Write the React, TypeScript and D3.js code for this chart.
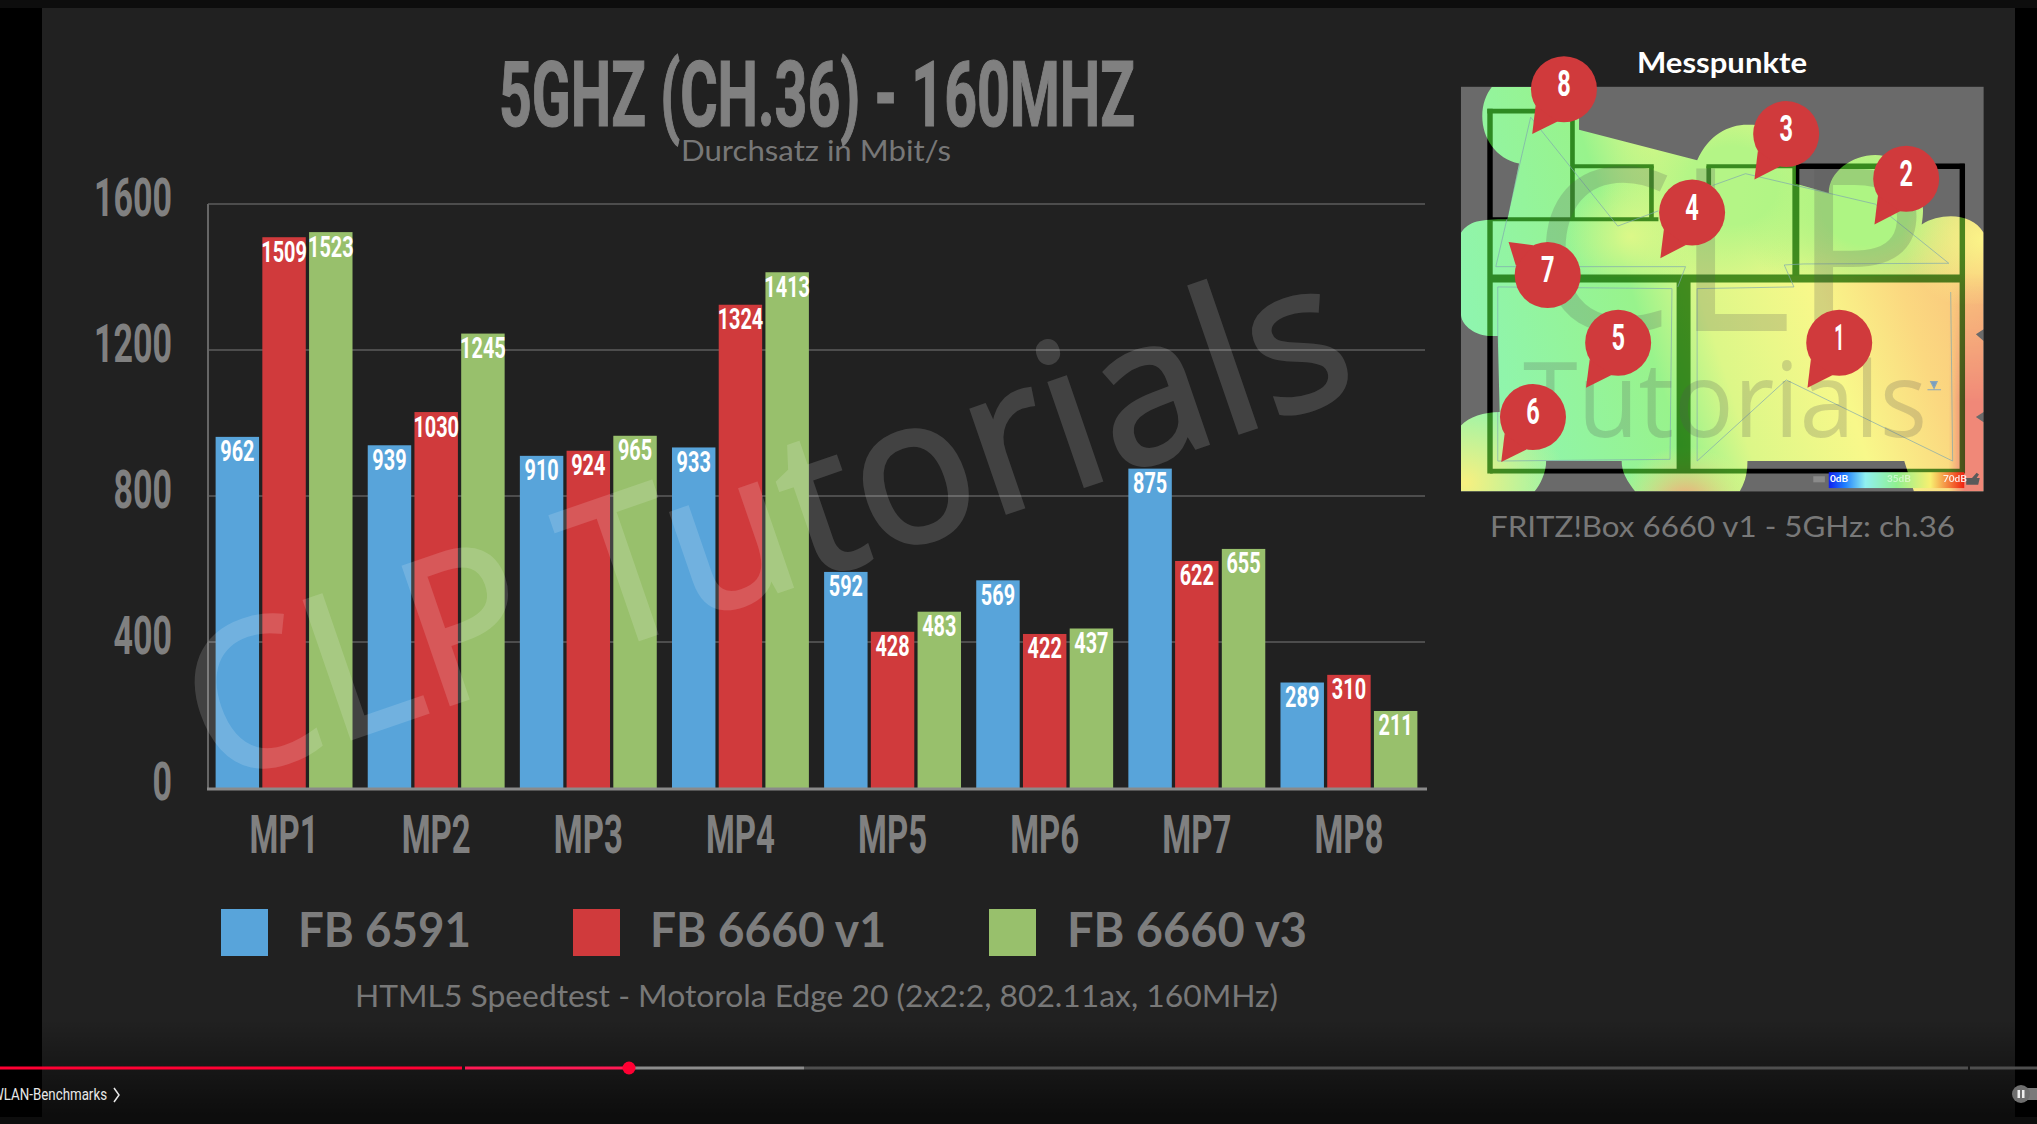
import React from "react";
import * as d3 from "d3";

const categories = ["MP1", "MP2", "MP3", "MP4", "MP5", "MP6", "MP7", "MP8"];
const seriesNames = ["FB 6591", "FB 6660 v1", "FB 6660 v3"];
const fb6591 = [962, 939, 910, 933, 592, 569, 875, 289];
const fb6660v1 = [1509, 1030, 924, 1324, 428, 422, 622, 310];
const fb6660v3 = [1523, 1245, 965, 1413, 483, 437, 655, 211];
const seriesValues = [fb6591, fb6660v1, fb6660v3];
const seriesColors = ["#58a4da", "#d03a3c", "#98c06c"];
const yTicks = [0, 400, 800, 1200, 1600];

const W = 2037, H = 1124;
const NARROW = "'Liberation Sans Narrow','Roboto',sans-serif";
const SOFT = "'Lato','Noto Sans',sans-serif";

const x0 = d3.scaleBand<string>().domain(categories).range([208, 1425]).paddingInner(0.1).paddingOuter(0.05);
const x1 = d3.scaleBand<string>().domain(seriesNames).range([0, x0.bandwidth()]).paddingInner(0.07);
const y = d3.scaleLinear().domain([0, 1600]).range([788, 204]);

const pins = [
  { n: "1", c: [1057, 925], t: [975, 1058] },
  { n: "2", c: [1230, 440], t: [1148, 575] },
  { n: "3", c: [920, 308], t: [838, 442] },
  { n: "4", c: [677, 540], t: [595, 675] },
  { n: "5", c: [486, 925], t: [403, 1058] },
  { n: "6", c: [266, 1145], t: [184, 1278] },
  { n: "7", c: [304, 725], t: [203, 627] },
  { n: "8", c: [346, 175], t: [264, 308] },
];

// floor-plan space -> page
const hx = d3.scaleLinear().domain([0, 607 * 2.583]).range([1430, 2037]);
const hy = d3.scaleLinear().domain([0, 530 * 2.958]).range([30, 560]);

const heatOutline =
  "M160,168 L385,168 L385,295 L690,385 C720,310 770,280 820,280 C880,280 930,300 945,340 L945,455 L1030,482 C1030,420 1090,370 1150,370 C1220,370 1290,450 1270,575 C1320,540 1400,540 1430,600 L1430,885 L1410,900 L1430,920 L1430,1130 L1410,1145 L1430,1160 L1430,1365 L1250,1365 L1225,1275 L820,1275 C820,1320 810,1345 800,1365 L530,1365 C510,1335 495,1310 495,1275 L300,1275 C300,1310 285,1345 270,1365 L80,1365 L80,1170 C100,1145 140,1130 180,1130 L175,905 L150,905 C110,900 80,870 80,840 L80,600 C100,565 130,560 200,560 L230,395 C170,380 135,320 135,255 C135,220 145,190 160,168 Z";

const walls: [number, number, number, number, number][] = [
  [148, 240, 375, 240, 14], [155, 233, 155, 1312, 14], [368, 240, 368, 560, 12],
  [368, 403, 578, 403, 12], [572, 403, 572, 560, 12], [155, 560, 590, 560, 12],
  [714, 403, 945, 403, 12], [720, 403, 720, 460, 12], [945, 403, 1381, 403, 16],
  [1375, 396, 1375, 1312, 14], [945, 403, 945, 735, 18], [155, 735, 1375, 735, 24],
  [655, 735, 655, 1305, 36], [155, 1305, 1375, 1305, 14],
];

const tracks: [number, number][][] = [
  [[260, 258], [170, 700], [660, 700], [640, 760]],
  [[260, 258], [485, 580], [590, 535]],
  [[730, 460], [815, 425], [1150, 515], [1340, 690], [965, 692], [915, 695], [940, 760], [690, 765], [690, 1275], [920, 1035], [1350, 1275], [1345, 775]],
  [[175, 760], [625, 765], [620, 1270], [175, 1275], [175, 760]],
];
const trackLine = d3.line();

function Heat() {
  const tf = `translate(1430,30) scale(${1 / 2.583},${1 / 2.958})`;
  const wallEls = (stroke: string) =>
    walls.map((w, i) => (
      <line key={i} x1={w[0]} y1={w[1]} x2={w[2]} y2={w[3]} strokeWidth={w[4]} stroke={stroke} />
    ));
  return (
    <g>
      <defs>
        <clipPath id="heatClip"><path d={heatOutline} /></clipPath>
        <linearGradient id="heatBase" gradientUnits="userSpaceOnUse" x1="180" y1="1150" x2="1430" y2="800">
          <stop offset="0" stopColor="#8ff5ae" />
          <stop offset="0.33" stopColor="#98f38c" />
          <stop offset="0.46" stopColor="#dcf788" />
          <stop offset="0.68" stopColor="#f8f88a" />
          <stop offset="0.85" stopColor="#fbd880" />
          <stop offset="1" stopColor="#f9c47c" />
        </linearGradient>
        <radialGradient id="heatGreenA" gradientUnits="userSpaceOnUse" cx="1130" cy="520" r="330">
          <stop offset="0.35" stopColor="#aef583" /><stop offset="1" stopColor="#aef583" stopOpacity="0" />
        </radialGradient>
        <radialGradient id="heatGreenB" gradientUnits="userSpaceOnUse" cx="780" cy="460" r="330">
          <stop offset="0.35" stopColor="#b4f586" /><stop offset="1" stopColor="#b4f586" stopOpacity="0" />
        </radialGradient>
        <radialGradient id="heatSpot" gradientUnits="userSpaceOnUse" cx="520" cy="610" r="170">
          <stop offset="0" stopColor="#dcf888" /><stop offset="1" stopColor="#dcf888" stopOpacity="0" />
        </radialGradient>
        <radialGradient id="heatCorner" gradientUnits="userSpaceOnUse" cx="90" cy="1340" r="260">
          <stop offset="0" stopColor="#f8f080" /><stop offset="1" stopColor="#f8f080" stopOpacity="0" />
        </radialGradient>
        <radialGradient id="heatBottom" gradientUnits="userSpaceOnUse" cx="660" cy="1400" r="170">
          <stop offset="0" stopColor="#f89a78" /><stop offset="1" stopColor="#f8f080" stopOpacity="0" />
        </radialGradient>
        <linearGradient id="heatRight" gradientUnits="userSpaceOnUse" x1="1340" y1="0" x2="1430" y2="0">
          <stop offset="0" stopColor="#f08878" stopOpacity="0" /><stop offset="0.45" stopColor="#f08878" />
        </linearGradient>
        <linearGradient id="heatRightFade" gradientUnits="userSpaceOnUse" x1="0" y1="720" x2="0" y2="1100">
          <stop offset="0" stopColor="#000" /><stop offset="1" stopColor="#fff" />
        </linearGradient>
        <mask id="rightMask" maskUnits="userSpaceOnUse" x="1300" y="500" width="140" height="900">
          <rect x="1300" y="500" width="140" height="900" fill="url(#heatRightFade)" />
        </mask>
        <radialGradient id="heatTopRight" gradientUnits="userSpaceOnUse" cx="1430" cy="620" r="210">
          <stop offset="0" stopColor="#fbf488" /><stop offset="1" stopColor="#fbf488" stopOpacity="0" />
        </radialGradient>
        <linearGradient id="scaleBar" x1="0" x2="1" y1="0" y2="0">
          <stop offset="0" stopColor="#1020f0" /><stop offset="0.12" stopColor="#2080ff" />
          <stop offset="0.27" stopColor="#90f0f0" /><stop offset="0.5" stopColor="#90f090" />
          <stop offset="0.75" stopColor="#f8f070" /><stop offset="1" stopColor="#f02010" />
        </linearGradient>
      </defs>
      <g transform={tf}>
        <rect x={80} y={168} width={1350} height={1197} fill="#6a6a6a" />
        <g>{wallEls("#000")}</g>
        <g clipPath="url(#heatClip)">
          <rect x={80} y={168} width={1350} height={1197} fill="url(#heatBase)" />
          <rect x={80} y={168} width={1350} height={560} fill="url(#heatGreenB)" />
          <rect x={800} y={168} width={630} height={560} fill="url(#heatGreenA)" />
          <rect x={300} y={440} width={440} height={290} fill="url(#heatSpot)" />
          <rect x={80} y={1100} width={300} height={265} fill="url(#heatCorner)" />
          <rect x={480} y={1200} width={360} height={165} fill="url(#heatBottom)" />
          <rect x={1200} y={410} width={230} height={400} fill="url(#heatTopRight)" />
          <rect x={1340} y={700} width={90} height={665} fill="url(#heatRight)" mask="url(#rightMask)" />
          <g style={{ mixBlendMode: "multiply" }}>{wallEls("#4f9038")}</g>
          {tracks.map((t, i) => (
            <path key={i} d={trackLine(t) || ""} fill="none" stroke="#7fa6b0" strokeWidth={2.5} opacity={0.75} />
          ))}
        </g>
        <path d="M1293,1040 L1310,1040 L1302,1060 Z M1285,1064 L1320,1064" stroke="#8aa6b8" strokeWidth={3} fill="#7a9fc0" />
        <rect x={1030} y={1308} width={350} height={47} fill="url(#scaleBar)" />
        <rect x={990} y={1320} width={30} height={18} fill="#8a8a8a" />
        <path d="M1385,1345 L1385,1325 L1400,1325 L1412,1310 L1418,1315 L1412,1325 L1420,1325 L1416,1345 Z" fill="#5a5a5a" />
      </g>
      <g fontFamily={SOFT} fontSize={10} fontWeight={700} fill="#fff">
        <text x={1830} y={482}>0dB</text>
        <text x={1887} y={482} opacity={0.5}>35dB</text>
        <text x={1943} y={482} opacity={0.85}>70dB</text>
      </g>
      <g fontFamily="'Open Sans','Noto Sans',sans-serif" fontWeight={400} fill="#555" opacity={0.22}>
        <text x={1532} y={331} fontSize={227} textLength={396} lengthAdjust="spacingAndGlyphs">CLP</text>
        <text x={1523} y={437} fontSize={104} textLength={404} lengthAdjust="spacingAndGlyphs">Tutorials</text>
      </g>
      {pins.map((p) => {
        const cx = hx(p.c[0]), cy = hy(p.c[1]), tx = hx(p.t[0]), ty = hy(p.t[1]);
        const a = Math.atan2(ty - cy, tx - cx);
        const s = 0.42, r = 33;
        const b1 = [cx + r * Math.cos(a - s), cy + r * Math.sin(a - s)];
        const b2 = [cx + r * Math.cos(a + s), cy + r * Math.sin(a + s)];
        return (
          <g key={p.n}>
            <circle cx={cx} cy={cy} r={r} fill="#d03a3c" />
            <path d={`M${b1[0]},${b1[1]} L${tx},${ty} L${b2[0]},${b2[1]} Z`} fill="#d03a3c" />
            <text x={cx} y={cy + 7} textAnchor="middle" fontFamily={NARROW} fontWeight={700} fontSize={37} fill="#fff" textLength={p.n === "1" ? 10 : 13.5} lengthAdjust="spacingAndGlyphs">{p.n}</text>
          </g>
        );
      })}
    </g>
  );
}

export default function App() {
  const progressStops = [
    { a: 0, b: 462, c: "#ff0033" },
    { a: 465, b: 629, c: "#ff1a55" },
    { a: 629, b: 804, c: "#8c8c8c" },
    { a: 804, b: 1968, c: "#4e4e4e" },
    { a: 1970, b: 2037, c: "#4e4e4e" },
  ];
  return (
    <svg width={W} height={H} viewBox={`0 0 ${W} ${H}`} style={{ position: "fixed", left: 0, top: 0, display: "block" }}>
      <defs>
        <linearGradient id="fadeBottom" x1="0" x2="0" y1="0" y2="1">
          <stop offset="0" stopColor="#000" stopOpacity="0" />
          <stop offset="1" stopColor="#000" stopOpacity="0.62" />
        </linearGradient>
      </defs>
      <rect width={W} height={H} fill="#0d0d0d" />
      <rect x={0} y={8} width={W} height={1109} fill="#000" />
      <rect x={42} y={8} width={1973} height={1109} fill="#212121" />

      {/* title */}
      <text x={499} y={126} fontFamily={NARROW} fontWeight={700} fontSize={90} fill="#808080" stroke="#808080" strokeWidth={1.2} textLength={636} lengthAdjust="spacingAndGlyphs">5GHZ (CH.36) - 160MHZ</text>
      <text x={681} y={161} fontFamily={SOFT} fontSize={29} fill="#777" textLength={270} lengthAdjust="spacingAndGlyphs">Durchsatz in Mbit/s</text>

      {/* grid + axis */}
      {yTicks.filter((t) => t > 0).map((t) => (
        <line key={t} x1={208} x2={1425} y1={y(t)} y2={y(t)} stroke="#5c5c5c" strokeWidth={1.5} />
      ))}
      <line x1={208} x2={208} y1={y(1600)} y2={y(0)} stroke="#666" strokeWidth={2} />
      {yTicks.map((t) => {
        const s = String(t);
        return (
          <text key={t} x={172} y={y(t) + 12} textAnchor="end" fontFamily={NARROW} fontWeight={700} fontSize={53} fill="#808080" textLength={s.length * 19.5} lengthAdjust="spacingAndGlyphs">{s}</text>
        );
      })}

      {/* bars */}
      {categories.map((c, i) => (
        <g key={c} transform={`translate(${x0(c)},0)`}>
          {seriesNames.map((s, k) => {
            const v = seriesValues[k][i];
            return <rect key={s} x={x1(s)} y={y(v)} width={x1.bandwidth()} height={y(0) - y(v)} fill={seriesColors[k]} />;
          })}
        </g>
      ))}
      <line x1={207} x2={1427} y1={789} y2={789} stroke="#8a8a8a" strokeWidth={3} />

      {/* watermark */}
      <text transform="translate(214,786) rotate(-19)" fontFamily="'Noto Sans',sans-serif" fontSize={204} fill="#fff" stroke="#fff" strokeWidth={3} opacity={0.15} textLength={1215} lengthAdjust="spacingAndGlyphs">CLP Tutorials</text>

      {/* value labels */}
      {categories.map((c, i) => (
        <g key={c} transform={`translate(${x0(c)},0)`}>
          {seriesNames.map((s, k) => {
            const v = seriesValues[k][i];
            const t = String(v);
            return (
              <text key={s} x={(x1(s) || 0) + x1.bandwidth() / 2} y={y(v) + 24.5} textAnchor="middle" fontFamily={NARROW} fontWeight={700} fontSize={30} fill="#fff" textLength={t.length * 11.4} lengthAdjust="spacingAndGlyphs">{t}</text>
            );
          })}
        </g>
      ))}

      {/* category labels */}
      {categories.map((c) => (
        <text key={c} x={(x0(c) || 0) + x0.bandwidth() / 2} y={853} textAnchor="middle" fontFamily={NARROW} fontWeight={700} fontSize={54} fill="#808080" textLength={69} lengthAdjust="spacingAndGlyphs">{c}</text>
      ))}

      {/* legend */}
      {seriesNames.map((s, k) => {
        const sx = [221, 573, 989][k], tx = [298, 650, 1067][k], tl = [173, 236, 240][k];
        return (
          <g key={s}>
            <rect x={sx} y={909} width={47} height={47} fill={seriesColors[k]} />
            <text x={tx} y={947} fontFamily={SOFT} fontWeight={700} fontSize={47} fill="#7d7d7d" textLength={tl} lengthAdjust="spacingAndGlyphs">{s}</text>
          </g>
        );
      })}
      <text x={355} y={1007} fontFamily={SOFT} fontSize={30} fill="#787878" textLength={923} lengthAdjust="spacingAndGlyphs">HTML5 Speedtest - Motorola Edge 20 (2x2:2, 802.11ax, 160MHz)</text>

      {/* right panel */}
      <text x={1637} y={73} fontFamily={SOFT} fontWeight={700} fontSize={29} fill="#fff" textLength={170} lengthAdjust="spacingAndGlyphs">Messpunkte</text>
      <Heat />
      <text x={1490} y={537} fontFamily={SOFT} fontSize={29} fill="#787878" textLength={465} lengthAdjust="spacingAndGlyphs">FRITZ!Box 6660 v1 - 5GHz: ch.36</text>

      {/* player chrome */}
      <rect x={0} y={1020} width={W} height={97} fill="url(#fadeBottom)" />
      {progressStops.map((p, i) => (
        <rect key={i} x={p.a} y={1066.5} width={p.b - p.a} height={3} fill={p.c} />
      ))}
      <circle cx={629} cy={1068} r={6.5} fill="#ff0033" />
      <text x={-8} y={1100} fontFamily={NARROW} fontSize={17} fill="#e8e8e8" textLength={115} lengthAdjust="spacingAndGlyphs">WLAN-Benchmarks</text>
      <path d="M114,1088 L119,1095 L114,1102" fill="none" stroke="#e8e8e8" strokeWidth={1.5} />
      <rect x={2021} y={1088} width={16} height={12} fill="#7a7a7a" />
      <circle cx={2021} cy={1094} r={9} fill="#6e6e6e" />
      <rect x={2017.5} y={1090} width={2.5} height={8} fill="#eee" />
      <rect x={2022} y={1090} width={2.5} height={8} fill="#eee" />
    </svg>
  );
}
